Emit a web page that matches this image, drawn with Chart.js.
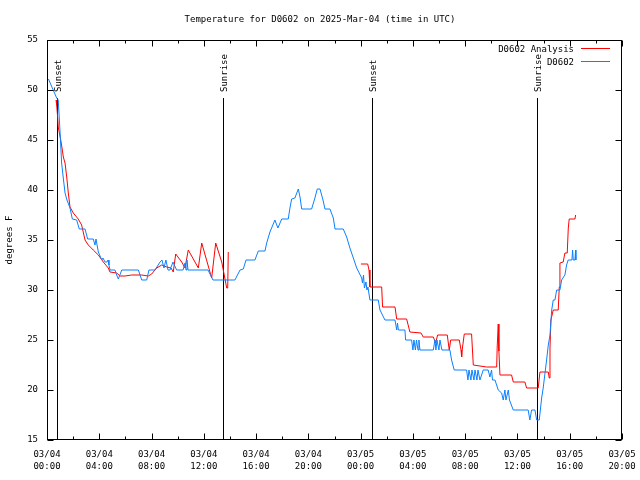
<!DOCTYPE html>
<html>
<head>
<meta charset="utf-8">
<script src="https://cdn.jsdelivr.net/npm/chart.js@4/dist/chart.umd.min.js"></script>
<style>
  html, body { margin: 0; padding: 0; background: #fff; }
</style>
</head>
<body>
<canvas id="tempChart" width="640" height="480"></canvas>
<script>
// hours since 03/04 00:00 UTC
const obsHours = [
  0.11, 0.74, 0.86, 0.99, 1.12, 1.22, 1.38, 1.53, 1.76, 1.94,
  2.27, 2.47, 2.91, 3.11, 3.54, 3.67, 3.75, 3.83, 3.93, 4.19,
  4.28, 4.44, 4.59, 4.67, 4.74, 4.82, 5.20, 5.33, 5.46, 5.72,
  6.99, 7.25, 7.63, 7.80, 8.26, 8.65, 8.80, 8.95, 9.10, 9.26,
  9.41, 9.64, 9.92, 10.41, 10.56, 10.64, 10.71, 10.79, 12.32, 12.70,
  14.38, 14.77, 15.02, 15.23, 15.91, 16.17, 16.68, 16.81, 17.06, 17.44,
  17.67, 17.96, 18.46, 18.59, 18.72, 18.97, 19.23, 19.36, 19.49, 20.25,
  20.50, 20.68, 20.89, 21.12, 21.27, 21.65, 21.91, 22.04, 22.67, 22.93,
  23.18, 23.44, 23.70, 24.08, 24.14, 24.22, 24.29, 24.41, 24.48, 24.56,
  24.71, 25.35, 25.48, 25.86, 26.63, 26.76, 26.82, 26.89, 27.39, 27.44,
  27.90, 28.00, 28.08, 28.19, 28.27, 28.39, 28.46, 28.54, 29.56, 29.69,
  29.76, 29.84, 29.99, 30.07, 30.22, 30.83, 30.96, 31.16, 32.11, 32.21,
  32.29, 32.44, 32.52, 32.67, 32.75, 32.90, 32.98, 33.13, 33.38, 33.76,
  33.89, 34.02, 34.09, 34.28, 34.53, 34.79, 34.91, 35.04, 35.12, 35.30,
  35.39, 35.42, 35.68, 36.82, 36.95, 37.08, 37.34, 37.47, 37.67, 37.85,
  37.97, 38.23, 38.36, 38.49, 38.62, 38.74, 38.87, 39.00, 39.25, 39.38,
  39.63, 39.76, 39.88, 40.17, 40.22, 40.27, 40.40, 40.45, 40.47
];
const obsTemps = [
  51.1, 49.2, 49, 46, 42.7, 41.5, 39.7, 39, 38.2, 37.1,
  37, 36.1, 36.1, 35.1, 35.1, 34.5, 35.1, 34.5, 33.8, 33,
  33.2, 32.8, 32.8, 33, 32.5, 32, 32, 31.5, 31.1, 32,
  32, 31, 31, 32, 32, 32.8, 33, 32.2, 33, 32,
  32, 32.8, 32, 32, 32.7, 32, 33, 32, 32, 31,
  31, 32, 32.1, 33, 33, 33.9, 33.9, 34.7, 35.8, 37,
  36.2, 37.1, 37.1, 38.2, 39.1, 39.2, 40.1, 39.3, 38.1, 38.1,
  39.2, 40.1, 40.1, 39, 38.1, 38.1, 37.2, 36.1, 36.1, 35.3,
  34.2, 33.2, 32.2, 31.2, 30.7, 31.5, 30.2, 30.8, 30, 30.3,
  29, 29, 28, 27, 27, 26, 26.7, 26, 26, 25,
  25, 24, 25, 24, 25, 24, 25, 24, 24, 25,
  24, 25, 24, 25, 24, 24, 23, 22, 22, 21,
  22, 21, 22, 21, 22, 21, 22, 21, 22, 22,
  21.3, 22, 21, 21, 20, 19.7, 19, 20, 19, 20,
  19, 19, 18, 18, 17, 18, 18, 17, 17, 19.2,
  20.2, 23, 24.5, 25.5, 28, 29, 29, 30, 30, 31,
  31.5, 32.5, 33, 33, 34, 33, 33, 34, 33
];

const anaHours = [
  0.69, 0.74, 0.82, 0.86, 1.05, 1.15, 1.25, 1.38, 1.51, 1.63,
  1.76, 2.01, 2.39, 2.65, 2.91, 3.16, 3.54, 3.93, 4.31, 4.69,
  4.82, 5.33, 5.59, 5.97, 6.48, 7.25, 7.75, 8.01, 8.39, 8.78,
  9.16, 9.49, 9.66, 9.85, 10.31, 10.56, 10.81, 11.58, 11.84, 12.60,
  12.91, 13.37, 13.49, 13.75, 13.83, 13.87,
  18.00,
  24.02, 24.54, 24.64, 24.71, 25.61, 25.68, 26.63, 26.76, 27.52, 27.77,
  28.62, 28.79, 29.56, 29.74, 29.89, 30.63, 30.78, 30.89, 31.55, 31.68,
  31.73, 31.77, 31.93, 32.49, 32.62, 33.64, 34.41, 34.45, 34.53, 34.58,
  34.66, 35.55, 35.68, 36.57, 36.70, 37.59, 37.72, 38.36, 38.43, 38.49,
  38.56, 38.74, 39.12, 39.20, 39.25, 39.50, 39.63, 39.81, 39.89, 39.96,
  40.40, 40.45
];
const anaTemps = [
  49, 48.5, 47.2, 46.3, 45, 44.2, 43.3, 42.7, 41.3, 39.7,
  38.3, 37.7, 37.1, 36.5, 35, 34.5, 34, 33.5, 32.8, 32.2,
  31.8, 31.7, 31.4, 31.4, 31.5, 31.5, 31.4, 31.6, 32.2, 32.5,
  32.3, 32.2, 31.8, 33.6, 32.8, 32.2, 34, 32.2, 34.7, 31.2,
  34.7, 32.8, 32, 30.2, 30.2, 33.8,
  null,
  32.6, 32.6, 32, 30.3, 30.3, 28.3, 28.3, 27.1, 27.1, 25.8,
  25.7, 25.3, 25.3, 24.7, 25.5, 25.5, 24, 25, 25, 24,
  23.3, 24, 25.6, 25.6, 22.5, 22.3, 22.3, 24.3, 26.6, 23.9,
  21.5, 21.5, 20.8, 20.8, 20.2, 20.2, 21.8, 21.8, 21.2, 24.2,
  27, 28, 28, 30.3, 32.7, 32.8, 33.7, 33.7, 36.2, 37.1,
  37.1, 37.5
];

const sunHours = [0.79, 13.44, 24.84, 37.47];
const sunLabels = ["Sunset", "Sunrise", "Sunset", "Sunrise"];
const dayLabels = ["03/04", "03/05"];
const yTicks = [15, 20, 25, 30, 35, 40, 45, 50, 55];

const FONT = "'DejaVu Sans Mono', 'Liberation Mono', monospace";
Chart.defaults.font.family = FONT;
Chart.defaults.font.size = 9;
Chart.defaults.color = "#000";

// gnuplot-like frame, inward ticks, sun lines and key
const gnuplotLook = {
  id: "gnuplotLook",
  beforeDatasetsDraw(chart) {
    const { ctx, chartArea: a, scales: { x } } = chart;
    ctx.save();
    ctx.strokeStyle = "#000";
    ctx.lineWidth = 1;
    sunHours.forEach(h => {
      const px = Math.round(x.getPixelForValue(h)) + 0.5;
      ctx.beginPath();
      ctx.moveTo(px, 98);
      ctx.lineTo(px, a.bottom);
      ctx.stroke();
    });
    ctx.restore();
  },
  afterDraw(chart) {
    const { ctx, chartArea: a, scales: { x, y } } = chart;
    ctx.save();
    ctx.strokeStyle = "#000";
    ctx.lineWidth = 1;
    const L = Math.round(a.left) + 0.5, R = Math.round(a.right) - 0.5;
    const T = Math.round(a.top) + 0.5, B = Math.round(a.bottom) - 0.5;
    ctx.strokeRect(L, T, R - L, B - T);

    ctx.beginPath();
    yTicks.forEach(v => {
      const py = Math.round(y.getPixelForValue(v)) + 0.5;
      ctx.moveTo(L, py); ctx.lineTo(L + 6, py);
      ctx.moveTo(R, py); ctx.lineTo(R - 6, py);
    });
    for (let h = 0; h <= 44; h += 2) {
      const px = Math.round(x.getPixelForValue(h)) + 0.5;
      const len = h % 4 === 0 ? 6 : 3;
      ctx.moveTo(px, B); ctx.lineTo(px, B - len);
      ctx.moveTo(px, T); ctx.lineTo(px, T + len);
    }
    ctx.stroke();

    ctx.font = "9px " + FONT;
    ctx.fillStyle = "#000";
    sunLabels.forEach((lab, i) => {
      const px = Math.round(x.getPixelForValue(sunHours[i]));
      ctx.save();
      ctx.translate(px + 2, 92);
      ctx.rotate(-Math.PI / 2);
      ctx.textAlign = "left";
      ctx.textBaseline = "middle";
      ctx.fillText(lab, 0, 0);
      ctx.restore();
    });

    // key, top right
    const keys = [["D0602 Analysis", "#ff0000"], ["D0602", "#0a80ff"]];
    ctx.textAlign = "right";
    ctx.textBaseline = "middle";
    keys.forEach(([txt, col], i) => {
      const ky = 50 + i * 13;
      ctx.fillStyle = "#000";
      ctx.fillText(txt, 574, ky);
      ctx.strokeStyle = col;
      ctx.beginPath();
      ctx.moveTo(581, ky - 1.5);
      ctx.lineTo(610, ky - 1.5);
      ctx.stroke();
    });
    ctx.restore();
  }
};

const tempData = {
  datasets: [
    {
      label: "D0602 Analysis",
      data: anaHours.map((h, i) => ({ x: h, y: anaTemps[i] })),
      borderColor: "#ff0000",
      borderWidth: 1,
      pointRadius: 0,
      spanGaps: false,
      order: 2
    },
    {
      label: "D0602",
      data: obsHours.map((h, i) => ({ x: h, y: obsTemps[i] })),
      borderColor: "#0a80ff",
      borderWidth: 1,
      pointRadius: 0,
      order: 1
    }
  ]
};

const tempConfig = {
  type: "line",
  data: tempData,
  options: {
    responsive: false,
    animation: false,
    layout: { padding: 0 },
    plugins: {
      legend: { display: false },
      tooltip: { enabled: false },
      title: {
        display: true,
        text: "Temperature for D0602 on 2025-Mar-04 (time in UTC)",
        font: { size: 9, weight: "normal" },
        color: "#000",
        padding: { top: 14.6, bottom: 14.6 }
      }
    },
    scales: {
      x: {
        type: "linear",
        min: 0,
        max: 44,
        grid: { display: false, drawTicks: false },
        border: { display: false },
        ticks: {
          stepSize: 4,
          autoSkip: false,
          maxRotation: 0,
          padding: 8.5,
          font: { size: 9, lineHeight: 1.33 },
          callback: v => {
            const day = Math.floor(v / 24);
            const hh = String(v % 24).padStart(2, "0");
            return [dayLabels[day], hh + ":00"];
          }
        },
        afterFit: s => {
          s.height = 40;
          s.paddingLeft = 0;
          s.paddingRight = 18;
        }
      },
      y: {
        min: 15,
        max: 55,
        grid: { display: false, drawTicks: false },
        border: { display: false },
        ticks: { stepSize: 5, padding: 9, font: { size: 9 } },
        title: {
          display: true,
          text: "degrees F",
          font: { size: 9 },
          padding: { top: 4.6, bottom: 0 }
        },
        afterFit: s => { s.width = 47; }
      }
    }
  },
  plugins: [gnuplotLook]
};

var tempChart = new Chart(document.getElementById("tempChart"), tempConfig);
</script>
</body>
</html>
